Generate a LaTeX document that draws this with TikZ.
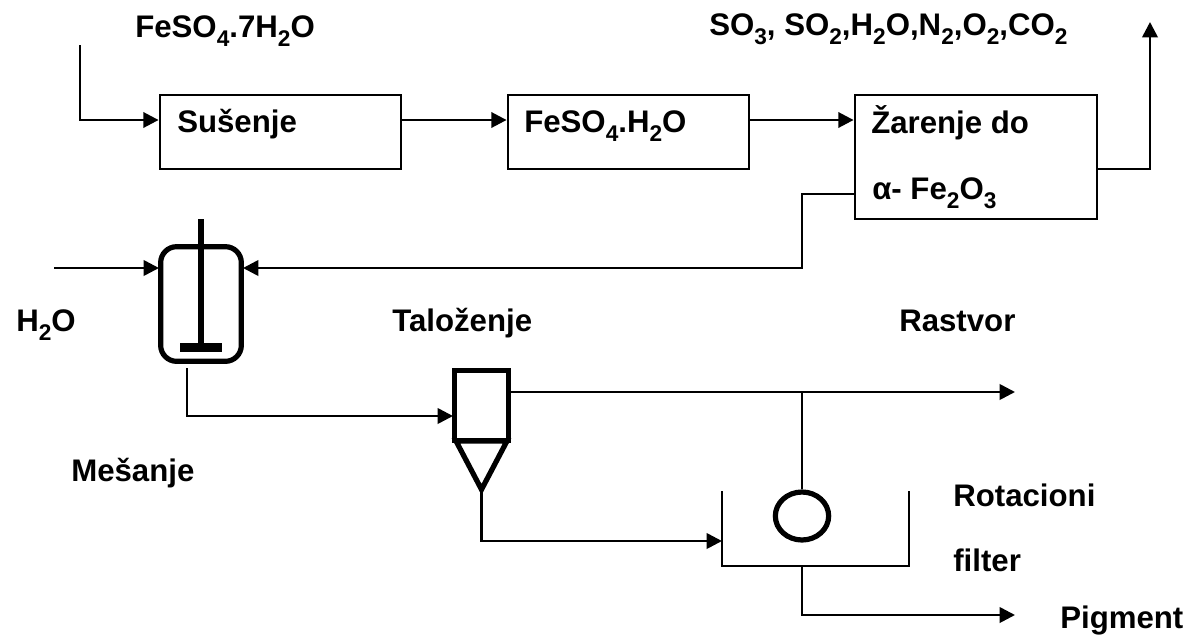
\documentclass[tikz,border=0pt]{standalone}
\usepackage{fontspec}
\setmainfont{Liberation Sans}
\usetikzlibrary{arrows.meta,shapes.geometric}
\newcommand{\sbs}[1]{\raisebox{-0.3em}{\fontsize{17pt}{18pt}\selectfont #1}}
\tikzset{
  x=0.75pt,y=-0.75pt,
  conn/.style={line width=2pt,line join=miter},
  flow/.style={conn,-{Triangle[length=11.5pt,width=11.5pt]}},
  heavy/.style={line width=3.9pt},
  procbox/.style={draw,line width=2.1pt,rectangle,inner sep=0pt,minimum width=#1*0.75pt},
  lbl/.style={anchor=base west,inner sep=0pt,font=\fontsize{23.4pt}{26pt}\selectfont\bfseries},
}
\begin{document}
\begin{tikzpicture}
\useasboundingbox (0,0) rectangle (1189,636);
% process boxes
\node[procbox=241,minimum height=55.5pt] (sus) at (280.5,132) {};
\node[procbox=241,minimum height=55.5pt] (fes) at (628.5,132) {};
\node[procbox=242,minimum height=93pt] (zar) at (976,157) {};
% mixer
\node[draw,line width=3.9pt,rectangle,rounded corners=12pt,inner sep=0pt,minimum width=60.5pt,minimum height=86pt] (mix) at (201,304) {};
\coordinate (shafttop) at (201,219);
\node[fill=black,inner sep=0pt,minimum width=31pt,minimum height=7pt] (blade) at (201,347.5) {};
\draw[line width=4.5pt] (shafttop) -- (blade.north);
% settler
\node[draw,line width=3.9pt,inner sep=0pt,minimum width=40.5pt,minimum height=52.5pt] (set) at (481.5,405.6) {};
\coordinate (c1) at (456,441);
\coordinate (c2) at (507,441);
\coordinate (c3) at (481.5,489.5);
\draw[heavy,line join=miter] (c1) -- (c2) -- (c3) -- cycle;
% filter
\node[draw,line width=3.9pt,ellipse,inner sep=0pt,minimum width=40pt,minimum height=36pt] (drum) at (802,516) {};
\coordinate (t1) at (722,491);
\coordinate (t2) at (722,566);
\coordinate (t3) at (909,566);
\coordinate (t4) at (909,491);
\coordinate (tb) at (802,566);
\draw[conn] (t1) -- (t2) -- (t3) -- (t4);
% free ends and bends
\coordinate (feed) at (80,45);
\coordinate (feedb) at (80,120);
\coordinate (outa) at (1097,169);
\coordinate (outb) at (1150,169);
\coordinate (outc) at (1150,22);
\coordinate (reta) at (855,194);
\coordinate (retb) at (802,194);
\coordinate (retc) at (802,268);
\coordinate (mixr) at (243,268);
\coordinate (water) at (54,268);
\coordinate (mixl) at (159,268);
\coordinate (mixo) at (187,368);
\coordinate (mixb) at (187,416);
\coordinate (setl) at (453,416);
\coordinate (seto) at (511,392);
\coordinate (rast) at (1015,392);
\coordinate (tee) at (802,392);
\coordinate (cono) at (481.5,541);
\coordinate (fili) at (722,541);
\coordinate (pigb) at (802,615);
\coordinate (pige) at (1015,615);
% connectors
\draw[flow] (feed) -- (feedb) -- (feedb -| sus.west);
\draw[flow] (sus.east |- feedb) -- (fes.west |- feedb);
\draw[flow] (fes.east |- feedb) -- (zar.west |- feedb);
\draw[flow] (outa) -- (outb) -- (outc);
\draw[flow] (reta) -- (retb) -- (retc) -- (mixr);
\draw[flow] (water) -- (mixl);
\draw[flow] (mixo) -- (mixb) -- (setl);
\draw[flow] (seto) -- (rast);
\draw[conn] (tee) -- (drum.north);
\draw[flow] (c3) -- (cono) -- (fili);
\draw[flow] (tb) -- (pigb) -- (pige);
% labels
\node[lbl] (l1) at (135,37) {FeSO\sbs{4}.7H\sbs{2}O};
\node[lbl] (l2) at (177,132) {Sušenje};
\node[lbl] (l3) at (524,132) {FeSO\sbs{4}.H\sbs{2}O};
\node[lbl] (l4) at (709,35) {SO\sbs{3}, SO\sbs{2},H\sbs{2}O,N\sbs{2},O\sbs{2},CO\sbs{2}};
\node[lbl] (l5) at (871,133) {Žarenje do};
\node[lbl] (l6) at (872,199) {α- Fe\sbs{2}O\sbs{3}};
\node[lbl] (l7) at (16,331) {H\sbs{2}O};
\node[lbl] (l8) at (392,331) {Taloženje};
\node[lbl] (l9) at (899,331) {Rastvor};
\node[lbl] (l10) at (71,481) {Mešanje};
\node[lbl] (l11) at (953,506) {Rotacioni};
\node[lbl] (l12) at (953,571) {filter};
\node[lbl] (l13) at (1060,628) {Pigment};
\end{tikzpicture}
\end{document}
